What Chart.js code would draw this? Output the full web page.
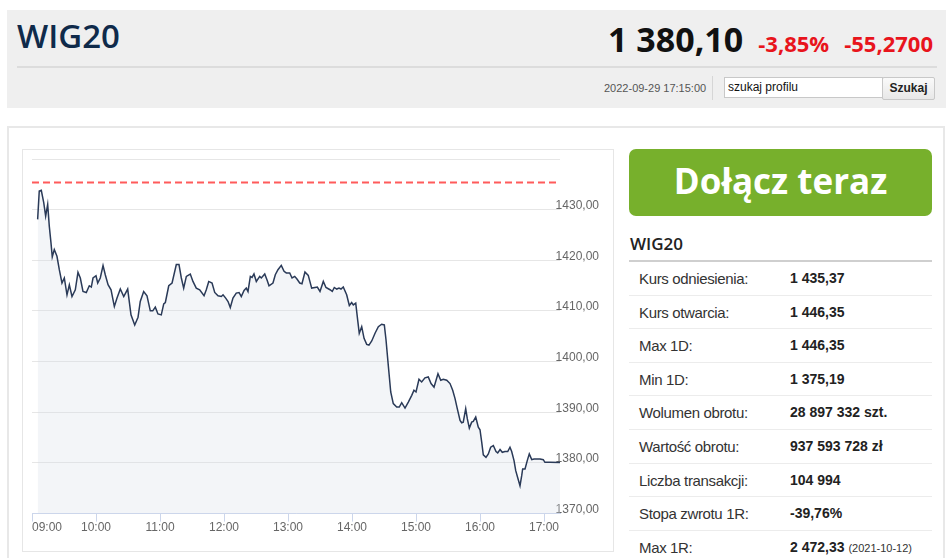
<!DOCTYPE html>
<html lang="pl">
<head>
<meta charset="utf-8">
<title>WIG20</title>
<script src="https://cdn.jsdelivr.net/npm/chart.js@4.4.1/dist/chart.umd.min.js"></script>
<style>
  body { margin: 0; width: 948px; height: 558px; overflow: hidden; background: #fff; position: relative;
         font-family: "Liberation Sans", Arial, sans-serif; }
  .abs { position: absolute; }
  #header { left: 7px; top: 10px; width: 939px; height: 98px; background: #efefef; }
  #title { left: 17px; top: 19px; font-family: "Open Sans", sans-serif; font-weight: 600; font-size: 33px;
           line-height: 1; color: #0f2a4a; }
  #quote { right: 15px; top: 22px; display: flex; align-items: baseline; white-space: nowrap;
           font-family: "Open Sans", sans-serif; font-weight: bold; }
  #quote span { line-height: 1; }
  #quote .last { font-size: 34px; color: #111; }
  #quote .chg { font-size: 22px; color: #e8141c; margin-left: 15px; }
  #divider { left: 17px; top: 66px; width: 920px; height: 2px; background: #dcdcdc; }
  #date { left: 604px; top: 82px; font-size: 11px; color: #555; }
  #sep { left: 712px; top: 76px; width: 1px; height: 24px; background: #d6d6d6; }
  #search { left: 724px; top: 77px; width: 154px; height: 19px; background: #fff; border: 1px solid #c8c8c8;
            font-size: 12px; line-height: 19px; padding-left: 3px; box-sizing: content-box; color: #111; }
  #btn { left: 882px; top: 77px; width: 51px; height: 21px; border: 1px solid #c8c8c8; border-radius: 2px;
         background: linear-gradient(#fafafa, #e8e8e8); font-size: 12px; font-weight: bold; line-height: 21px;
         text-align: center; color: #222; }
  #main { left: 7px; top: 126px; width: 934px; height: 460px; border: 2px solid #e8e8e8; }
  #chartBox { left: 22px; top: 149px; width: 590px; height: 401px; border: 1px solid #e6e6e6; }
  #chart { left: 23px; top: 150px; }
  #join { left: 629px; top: 149px; width: 303px; height: 67px; border-radius: 7px; background: #77b02c;
          color: #fff; font-family: "Open Sans", sans-serif; font-weight: bold; font-size: 35px;
          text-align: center; line-height: 64px; }
  #side { left: 629px; top: 232px; width: 303px; }
  #side h2 { margin: 0; font-family: "Open Sans", sans-serif; font-weight: 600; font-size: 17px; color: #222;
             height: 28px; line-height: 24px; padding-left: 1px; border-bottom: 2px solid #cfcfcf; }
  .row { height: 32.6px; line-height: 33px; border-bottom: 1px solid #ececec; font-size: 14px; color: #333;
         position: relative; white-space: nowrap; }
  .row .lab { position: absolute; left: 10px; font-size: 15px; letter-spacing: -0.35px; }
  .row .val { position: absolute; left: 161px; font-weight: bold; color: #222; }
  .row .val small { font-size: 11px; font-weight: normal; color: #333; }
</style>
</head>
<body>

<div id="header" class="abs"></div>
<div id="title" class="abs">WIG20</div>
<div id="quote" class="abs"><span class="last">1 380,10</span><span class="chg">-3,85%</span><span class="chg">-55,2700</span></div>
<div id="divider" class="abs"></div>
<div id="date" class="abs">2022-09-29 17:15:00</div>
<div id="sep" class="abs"></div>
<div id="search" class="abs">szukaj profilu</div>
<div id="btn" class="abs">Szukaj</div>

<div id="main" class="abs"></div>
<div id="chartBox" class="abs"></div>
<canvas id="chart" class="abs" width="589" height="400"></canvas>

<div id="join" class="abs">Dołącz teraz</div>
<div id="side" class="abs">
  <h2>WIG20</h2>
  <div id="rows"></div>
</div>

<script>
// WIG20 intraday 2022-09-29, minutes after 09:00
const minutes = [5.3, 6.8, 8.7, 11.0, 12.8, 14.7, 16.2, 17.8, 19.0, 20.9,
  23.4, 25.6, 28.1, 30.3, 32.8, 35.0, 37.5, 40.6, 43.1, 45.3,
  47.8, 50.9, 53.7, 55.6, 57.2, 60.0, 61.6, 64.0, 66.6, 68.7,
  71.3, 74.1, 77.2, 79.7, 82.8, 86.0, 89.7, 92.8, 96.3, 99.4,
  101.5, 104.7, 107.8, 110.9, 113.2, 115.6, 118.1, 121.2, 123.5, 125.0,
  128.2, 131.3, 135.3, 137.8, 140.0, 142.2, 144.7, 148.4, 150.9, 154.0,
  157.2, 161.3, 163.4, 165.7, 168.8, 171.3, 174.4, 177.5, 179.1, 181.6,
  183.8, 185.9, 188.4, 191.5, 194.1, 196.2, 198.8, 200.9, 202.5, 204.7,
  206.3, 208.1, 210.3, 213.5, 215.0, 218.2, 220.6, 222.2, 225.9, 228.1,
  230.6, 233.7, 236.3, 238.4, 241.6, 243.8, 246.3, 248.4, 251.0, 253.1,
  255.9, 259.0, 262.2, 265.3, 267.5, 270.0, 273.1, 275.6, 279.4, 281.5,
  283.4, 285.7, 287.8, 289.7, 291.8, 295.0, 297.5, 299.7, 301.2, 303.5,
  305.3, 306.8, 309.1, 311.3, 313.8, 315.9, 318.5, 321.6, 324.7, 327.8,
  330.3, 331.9, 334.0, 336.3, 338.7, 341.9, 344.3, 346.6, 349.7, 352.8,
  356.0, 358.1, 360.0, 362.8, 365.3, 368.4, 371.5, 374.1, 376.9, 380.6,
  383.2, 385.6, 388.8, 391.9, 394.4, 396.6, 398.7, 401.3, 402.8, 404.3,
  406.6, 408.1, 410.0, 412.2, 413.7, 416.0, 418.4, 420.0, 421.6, 423.1,
  425.6, 427.8, 430.0, 432.5, 435.0, 436.6, 438.8, 440.9, 443.4, 446.0,
  448.1, 449.7, 451.9, 453.5, 455.3, 457.5, 459.1, 460.0, 462.2, 464.3,
  466.2, 468.5, 470.6, 476.3, 479.3, 480.9, 485.6, 495.0];

const prices = [1428.08, 1433.69, 1433.83, 1431.39, 1428.73, 1431.05, 1426.75, 1423.45, 1420.67, 1422.12,
  1420.79, 1418.15, 1415.52, 1416.51, 1413.19, 1415.18, 1412.86, 1414.19, 1417.62, 1416.51,
  1413.85, 1413.65, 1414.98, 1414.72, 1416.51, 1416.96, 1415.52, 1416.51, 1418.95, 1417.16,
  1415.18, 1414.19, 1410.87, 1412.54, 1414.33, 1412.86, 1414.33, 1409.23, 1407.24, 1408.77,
  1411.87, 1413.85, 1413.00, 1410.02, 1410.02, 1410.75, 1409.42, 1409.23, 1411.41, 1411.67,
  1414.98, 1415.52, 1419.15, 1419.15, 1416.51, 1414.52, 1416.83, 1417.30, 1415.83, 1414.52,
  1414.19, 1413.00, 1414.19, 1415.83, 1415.52, 1413.65, 1413.00, 1412.86, 1413.19, 1412.54,
  1411.87, 1410.67, 1412.54, 1413.53, 1413.65, 1412.86, 1414.05, 1414.52, 1413.85, 1416.83,
  1416.63, 1417.30, 1415.83, 1416.83, 1416.51, 1417.30, 1415.97, 1414.98, 1415.52, 1417.16,
  1418.15, 1419.01, 1417.82, 1417.50, 1417.50, 1416.51, 1416.83, 1416.31, 1415.52, 1415.38,
  1417.70, 1417.02, 1414.52, 1414.64, 1414.72, 1413.85, 1415.83, 1414.64, 1414.19, 1413.85,
  1414.64, 1414.33, 1414.52, 1414.33, 1414.72, 1413.19, 1411.07, 1411.67, 1411.21, 1411.55,
  1408.23, 1405.60, 1406.90, 1404.60, 1403.41, 1403.27, 1404.07, 1405.60, 1406.90, 1407.38,
  1407.24, 1404.27, 1399.31, 1394.01, 1391.71, 1391.03, 1391.03, 1391.90, 1390.83, 1392.02,
  1393.35, 1394.35, 1394.01, 1396.53, 1395.99, 1396.79, 1396.98, 1395.67, 1394.94, 1397.62,
  1396.33, 1396.53, 1396.33, 1395.67, 1394.35, 1392.70, 1390.71, 1388.39, 1387.94, 1388.06,
  1390.71, 1388.73, 1386.87, 1388.06, 1388.19, 1389.05, 1387.06, 1386.55, 1384.09, 1381.59,
  1381.11, 1381.79, 1383.10, 1383.43, 1382.24, 1381.98, 1382.64, 1382.10, 1382.24, 1382.24,
  1383.10, 1382.24, 1380.46, 1378.47, 1377.14, 1375.50, 1377.48, 1378.81, 1378.81, 1380.46,
  1381.79, 1380.65, 1380.79, 1380.79, 1380.65, 1380.12, 1380.12, 1380.10];

const refPrice = 1435.37;            // kurs odniesienia
const sessionEnd = 495;              // 17:15
const hourLabels = ['09:00', '10:00', '11:00', '12:00', '13:00', '14:00', '15:00', '16:00', '17:00'];

const statLabels = ['Kurs odniesienia:', 'Kurs otwarcia:', 'Max 1D:', 'Min 1D:', 'Wolumen obrotu:',
  'Wartość obrotu:', 'Liczba transakcji:', 'Stopa zwrotu 1R:', 'Max 1R:'];
const statValues = ['1 435,37', '1 446,35', '1 446,35', '1 375,19', '28 897 332 szt.',
  '937 593 728 zł', '104 994', '-39,76%', '2 472,33 <small>(2021-10-12)</small>'];

// side table
const rows = document.getElementById('rows');
statLabels.forEach(function(lab, i) {
    const r = document.createElement('div');
    r.className = 'row';
    r.innerHTML = '<span class="lab">' + lab + '</span><span class="val">' + statValues[i] + '</span>';
    rows.appendChild(r);
});

const tickFont = { family: '"Liberation Sans", Arial, sans-serif', size: 12 };

new Chart(document.getElementById('chart'), {
    type: 'line',
    data: {
        datasets: [{
            data: minutes.map((m, i) => ({ x: m, y: prices[i] })),
            borderColor: '#2a3a58',
            borderWidth: 1.5,
            backgroundColor: 'rgba(216,222,232,0.3)',
            fill: 'start',
            pointRadius: 0,
            tension: 0
        }, {
            data: [{ x: 0, y: refPrice }, { x: sessionEnd, y: refPrice }],
            borderColor: '#ff5b5b',
            borderWidth: 2,
            borderDash: [7, 4],
            pointRadius: 0,
            fill: false
        }]
    },
    options: {
        responsive: false,
        animation: false,
        layout: { padding: { left: 9, top: 9, right: 0, bottom: 16 } },
        plugins: { legend: { display: false }, tooltip: { enabled: false } },
        scales: {
            x: {
                type: 'linear',
                min: 0,
                max: sessionEnd,
                // one tick per full hour, plus an unlabelled one at the session end
                afterBuildTicks: s => {
                    s.ticks = hourLabels.map((h, i) => ({ value: i * 60 })).concat([{ value: sessionEnd }]);
                },
                grid: {
                    drawOnChartArea: false,
                    tickLength: 8,
                    tickColor: ctx => (ctx.tick && ctx.tick.value % 60 === 0) ? '#ccd6eb' : 'rgba(0,0,0,0)'
                },
                border: { color: '#ccd6eb' },
                ticks: {
                    autoSkip: false,
                    maxRotation: 0,
                    align: 'inner',
                    padding: -1,
                    color: '#666',
                    font: tickFont,
                    callback: v => v % 60 === 0 ? hourLabels[v / 60] : ''
                }
            },
            y: {
                position: 'right',
                min: 1370,
                max: 1440,
                // fixed axis width; labels sit just over the right edge of the plot
                afterFit: s => { s.width = 52; s.paddingTop = 0; s.paddingBottom = 0; },
                grid: { color: '#e6e6e6', drawTicks: false },
                border: { display: false },
                ticks: {
                    stepSize: 10,
                    mirror: true,
                    padding: 39,
                    labelOffset: -4,
                    color: '#666',
                    font: tickFont,
                    callback: v => v >= 1440 ? '' : v.toFixed(2).replace('.', ',')
                }
            }
        }
    }
});
</script>
</body>
</html>
